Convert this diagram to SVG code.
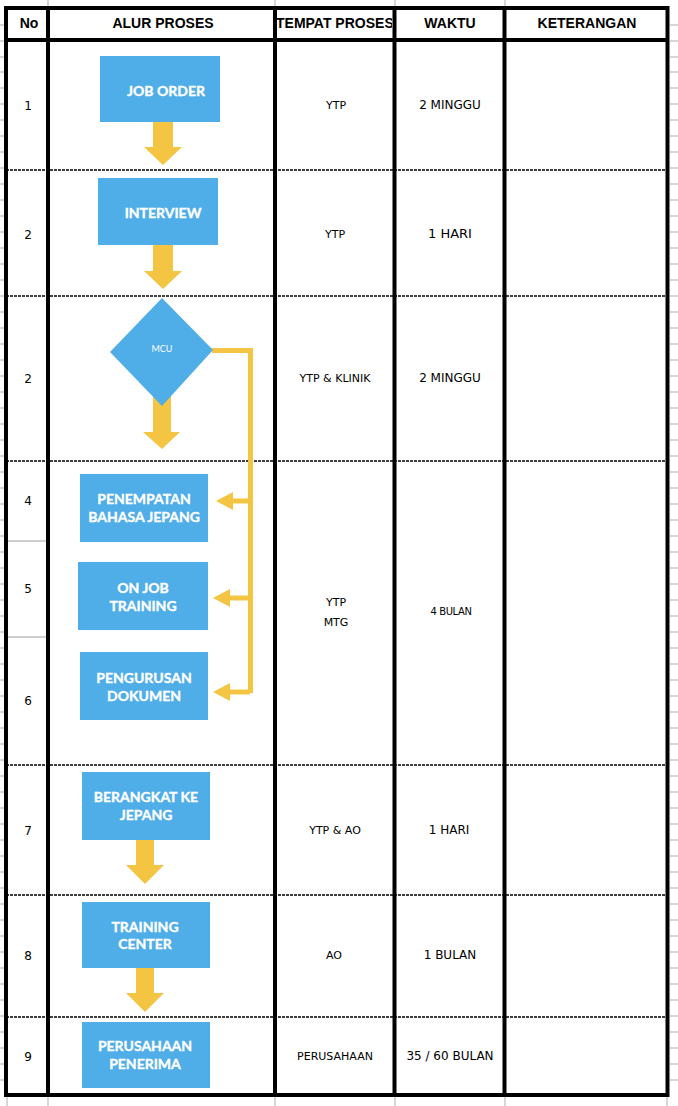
<svg xmlns="http://www.w3.org/2000/svg" width="678" height="1106" viewBox="0 0 678 1106">
  <style>
    .grid { stroke: #d6d6d6; stroke-width: 2; }
    .frame { stroke: #000; stroke-width: 4; fill: none; }
    .sep { stroke: #000; stroke-width: 1.6; stroke-dasharray: 3 1; }
    .thin { stroke: #cfcfcf; stroke-width: 2; }
    .hdr { font-family: "Liberation Sans", Arial, sans-serif; font-weight: 700; font-size: 14px; fill: #000; text-anchor: middle; }
    .cell { font-family: "DejaVu Sans", "Liberation Sans", sans-serif; font-size: 12px; fill: #000; text-anchor: middle; }
    .cell-sm { font-family: "DejaVu Sans", "Liberation Sans", sans-serif; font-size: 10px; fill: #000; text-anchor: middle; letter-spacing: -0.4px; }
    .box { fill: #4FADE7; }
    .lbl { font-family: Lato, "Open Sans", sans-serif; font-weight: 700; font-size: 14px; fill: #fff; stroke: #fff; stroke-width: 0.35; text-anchor: middle; }
    .arrow { fill: #F4C443; }
    .link { stroke: #F4C443; stroke-width: 5; fill: none; }
  </style>
  <defs>
    <clipPath id="clip-tempat"><rect x="277" y="10" width="115" height="30"/></clipPath>
  </defs>

  <rect width="678" height="1106" fill="#fff"/>

  <!-- spreadsheet gridlines around the table -->
  <g id="sheet-grid">
    <line class="grid" x1="48" y1="0" x2="48" y2="6"/>
    <line class="grid" x1="275" y1="0" x2="275" y2="6"/>
    <line class="grid" x1="395" y1="0" x2="395" y2="6"/>
    <line class="grid" x1="505" y1="0" x2="505" y2="6"/>
    <line class="grid" x1="7" y1="1097" x2="7" y2="1106"/>
    <line class="grid" x1="48" y1="1097" x2="48" y2="1106"/>
    <line class="grid" x1="275" y1="1097" x2="275" y2="1106"/>
    <line class="grid" x1="395" y1="1097" x2="395" y2="1106"/>
    <line class="grid" x1="505" y1="1097" x2="505" y2="1106"/>
    <line class="grid" x1="667" y1="1097" x2="667" y2="1106"/>
    <path class="grid" d="M0 25H4M0 41H4M0 57H4M0 72H4M0 88H4M0 104H4M0 120H4M0 136H4M0 152H4M0 168H4M0 184H4M0 200H4M0 216H4M0 232H4M0 248H4M0 264H4M0 280H4M0 296H4M0 312H4M0 328H4M0 344H4M0 360H4M0 376H4M0 392H4M0 408H4M0 424H4M0 440H4M0 456H4M0 472H4M0 488H4M0 504H4M0 520H4M0 536H4M0 552H4M0 568H4M0 584H4M0 600H4M0 616H4M0 632H4M0 648H4M0 664H4M0 680H4M0 696H4M0 712H4M0 728H4M0 744H4M0 760H4M0 776H4M0 792H4M0 808H4M0 824H4M0 840H4M0 856H4M0 872H4M0 888H4M0 904H4M0 920H4M0 936H4M0 952H4M0 968H4M0 984H4M0 1000H4M0 1016H4M0 1032H4M0 1048H4M0 1064H4M0 1080H4"/>
    <path class="grid" d="M670 25H678M670 41H678M670 57H678M670 72H678M670 88H678M670 104H678M670 120H678M670 136H678M670 152H678M670 168H678M670 184H678M670 200H678M670 216H678M670 232H678M670 248H678M670 264H678M670 280H678M670 296H678M670 312H678M670 328H678M670 344H678M670 360H678M670 376H678M670 392H678M670 408H678M670 424H678M670 440H678M670 456H678M670 472H678M670 488H678M670 504H678M670 520H678M670 536H678M670 552H678M670 568H678M670 584H678M670 600H678M670 616H678M670 632H678M670 648H678M670 664H678M670 680H678M670 696H678M670 712H678M670 728H678M670 744H678M670 760H678M670 776H678M670 792H678M670 808H678M670 824H678M670 840H678M670 856H678M670 872H678M670 888H678M670 904H678M670 920H678M670 936H678M670 952H678M670 968H678M670 984H678M670 1000H678M670 1016H678M670 1032H678M670 1048H678M670 1064H678M670 1080H678"/>
  </g>

  <!-- row separators -->
  <g id="rows">
    <line class="sep" x1="6" y1="170" x2="668" y2="170"/>
    <line class="sep" x1="6" y1="296" x2="668" y2="296"/>
    <line class="sep" x1="6" y1="461" x2="668" y2="461"/>
    <line class="sep" x1="6" y1="765" x2="668" y2="765"/>
    <line class="sep" x1="6" y1="895" x2="668" y2="895"/>
    <line class="sep" x1="6" y1="1017" x2="668" y2="1017"/>
    <line class="thin" x1="8" y1="541" x2="46" y2="541"/>
    <line class="thin" x1="8" y1="637" x2="46" y2="637"/>
  </g>

  <!-- table frame -->
  <g id="frame">
    <rect class="frame" x="6" y="8" width="661.5" height="1087"/>
    <line class="frame" x1="6" y1="40" x2="668" y2="40"/>
    <line class="frame" x1="48" y1="8" x2="48" y2="1095"/>
    <line class="frame" x1="275" y1="8" x2="275" y2="1095"/>
    <line class="frame" x1="394.5" y1="8" x2="394.5" y2="1095"/>
    <line class="frame" x1="504.5" y1="8" x2="504.5" y2="1095"/>
  </g>

  <!-- header -->
  <g id="header">
    <text class="hdr" x="29" y="28">No</text>
    <text class="hdr" x="163" y="28">ALUR PROSES</text>
    <text class="hdr" x="276" y="28" style="text-anchor:start" clip-path="url(#clip-tempat)">TEMPAT PROSES</text>
    <text class="hdr" x="450" y="28">WAKTU</text>
    <text class="hdr" x="587" y="28">KETERANGAN</text>
  </g>

  <!-- row numbers -->
  <g id="numbers">
    <text class="cell" x="28" y="110">1</text>
    <text class="cell" x="28" y="239">2</text>
    <text class="cell" x="28" y="383">2</text>
    <text class="cell" x="28" y="505">4</text>
    <text class="cell" x="28" y="593">5</text>
    <text class="cell" x="28" y="705">6</text>
    <text class="cell" x="28" y="835">7</text>
    <text class="cell" x="28" y="960">8</text>
    <text class="cell" x="28" y="1061">9</text>
  </g>

  <!-- place column -->
  <g id="tempat">
    <text class="cell" x="336" y="109" style="font-size:11px">YTP</text>
    <text class="cell" x="335" y="238" style="font-size:11px">YTP</text>
    <text class="cell" x="335" y="382" style="font-size:11px">YTP &amp; KLINIK</text>
    <text class="cell" x="336" y="606" style="font-size:11px">YTP</text>
    <text class="cell" x="336" y="626" style="font-size:11px">MTG</text>
    <text class="cell" x="335" y="834" style="font-size:11px">YTP &amp; AO</text>
    <text class="cell" x="334" y="959" style="font-size:11px">AO</text>
    <text class="cell" x="335" y="1060" style="font-size:11px">PERUSAHAAN</text>
  </g>

  <!-- time column -->
  <g id="waktu">
    <text class="cell" x="450" y="109">2 MINGGU</text>
    <text class="cell" x="450" y="238" style="font-size:13px">1 HARI</text>
    <text class="cell" x="450" y="382">2 MINGGU</text>
    <text class="cell-sm" x="451" y="615">4 BULAN</text>
    <text class="cell" x="449" y="834">1 HARI</text>
    <text class="cell" x="450" y="959">1 BULAN</text>
    <text class="cell" x="450" y="1060">35 / 60 BULAN</text>
  </g>

  <!-- connectors -->
  <g id="connectors">
    <polygon class="arrow" points="153,122 173,122 173,147 182,147 163,165 144,147 153,147"/>
    <polygon class="arrow" points="153,245 173,245 173,271 182,271 163,289 144,271 153,271"/>
    <polygon class="arrow" points="153,395 171,395 171,432 180,432 162,449 143,432 153,432"/>
    <polygon class="arrow" points="136,840 154,840 154,865 164,865 145,884 126,865 136,865"/>
    <polygon class="arrow" points="136,968 154,968 154,993 164,993 145,1012 126,993 136,993"/>
    <path class="link" d="M212 350.5H250.5V693"/>
    <path class="link" d="M250 501H230"/>
    <path class="link" d="M253 598H228"/>
    <path class="link" d="M250 692H228"/>
    <polygon class="arrow" points="216,501 233,492 233,510"/>
    <polygon class="arrow" points="213,598 230,589 230,607"/>
    <polygon class="arrow" points="213,692 230,683 230,701"/>
  </g>

  <!-- process steps -->
  <g id="job-order">
    <rect class="box" x="100" y="56" width="120" height="66"/>
    <text class="lbl" x="166" y="96">JOB ORDER</text>
  </g>
  <g id="interview">
    <rect class="box" x="98" y="178" width="120" height="67"/>
    <text class="lbl" x="163" y="218">INTERVIEW</text>
  </g>
  <g id="mcu">
    <polygon class="box" points="162,298 213,350 162,406 110,352"/>
    <text x="162" y="352" style="font-family:Lato,'Open Sans',sans-serif;font-size:9px;fill:#fff;text-anchor:middle">MCU</text>
  </g>
  <g id="penempatan">
    <rect class="box" x="80" y="474" width="128" height="68"/>
    <text class="lbl" x="144" y="504">PENEMPATAN</text>
    <text class="lbl" x="144" y="522">BAHASA JEPANG</text>
  </g>
  <g id="on-job-training">
    <rect class="box" x="78" y="562" width="130" height="68"/>
    <text class="lbl" x="143" y="593">ON JOB</text>
    <text class="lbl" x="143" y="611">TRAINING</text>
  </g>
  <g id="pengurusan">
    <rect class="box" x="80" y="652" width="128" height="68"/>
    <text class="lbl" x="144" y="683">PENGURUSAN</text>
    <text class="lbl" x="144" y="701">DOKUMEN</text>
  </g>
  <g id="berangkat">
    <rect class="box" x="82" y="772" width="128" height="68"/>
    <text class="lbl" x="146" y="802">BERANGKAT KE</text>
    <text class="lbl" x="146" y="820">JEPANG</text>
  </g>
  <g id="training-center">
    <rect class="box" x="82" y="902" width="128" height="66"/>
    <text class="lbl" x="145" y="932">TRAINING</text>
    <text class="lbl" x="145" y="949">CENTER</text>
  </g>
  <g id="perusahaan">
    <rect class="box" x="82" y="1022" width="128" height="66"/>
    <text class="lbl" x="145" y="1051">PERUSAHAAN</text>
    <text class="lbl" x="145" y="1069">PENERIMA</text>
  </g>
</svg>
